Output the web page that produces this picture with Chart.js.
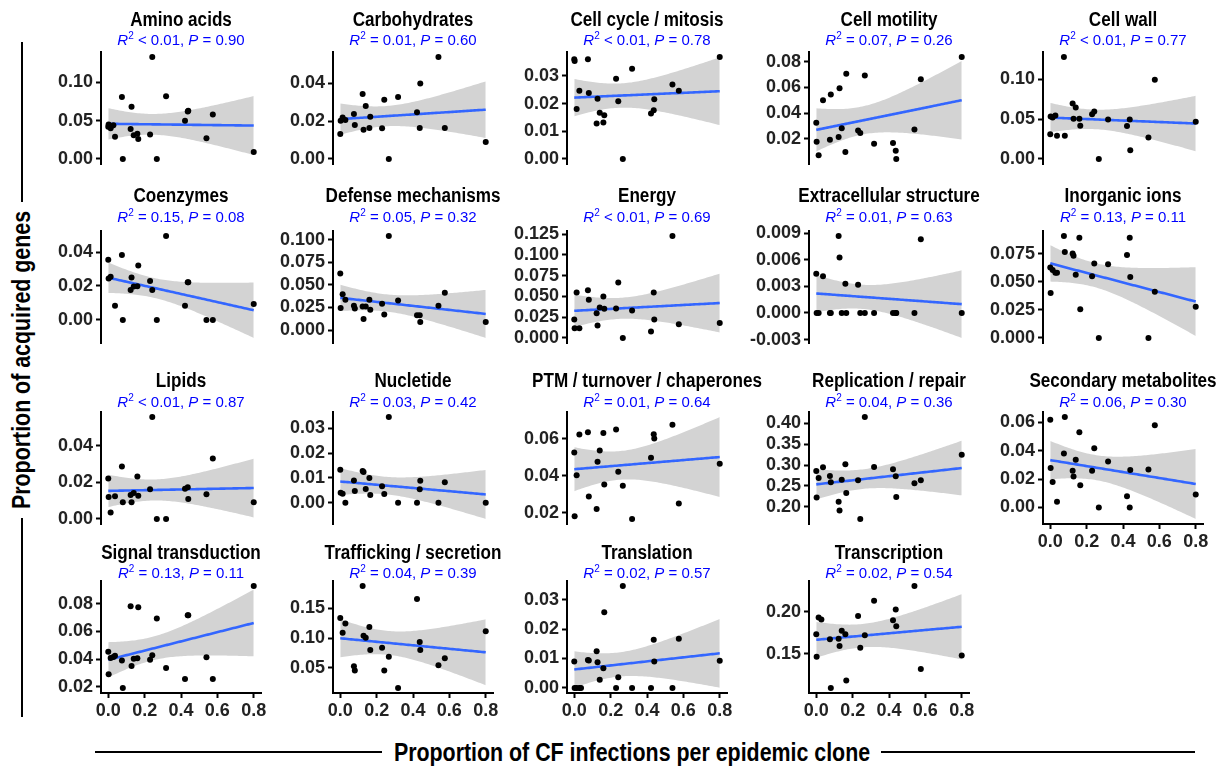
<!DOCTYPE html>
<html>
<head>
<meta charset="utf-8">
<script src="https://cdn.jsdelivr.net/npm/chart.js@4.4.1/dist/chart.umd.min.js"></script>
<style>
  html, body { margin: 0; padding: 0; background: #fff; }
  body { width: 1225px; height: 768px; position: relative; overflow: hidden;
         font-family: "Liberation Sans", Arial, sans-serif; }
  canvas.panel { position: absolute; }
  .axis-title { position: absolute; font-weight: bold; font-size: 25px; color: #000;
                white-space: nowrap; line-height: 1; }
  .rule { position: absolute; background: #000; }
</style>
</head>
<body>
<div class="axis-title" id="yTitle">Proportion of acquired genes</div>
<div class="axis-title" id="xTitle">Proportion of CF infections per epidemic clone</div>
<div class="rule" style="left:21px; top:42px; width:2px; height:160px;"></div>
<div class="rule" style="left:21px; top:518px; width:2px; height:199px;"></div>
<div class="rule" style="left:95px; top:751px; width:287px; height:2px;"></div>
<div class="rule" style="left:881px; top:751px; width:314px; height:2px;"></div>

<script>
// Proportion of CF infections for each epidemic clone (shared x values)
const cloneShare = [0.000, 0.002, 0.013, 0.028, 0.037, 0.075, 0.080, 0.123, 0.128, 0.140, 0.160,
                    0.165, 0.230, 0.242, 0.267, 0.318, 0.422, 0.437, 0.440, 0.540, 0.575, 0.800];

// Proportion of acquired genes per functional category, one value per clone (null = not plotted)
const aminoAcids = [0.042, 0.045, 0.040, 0.044, 0.029, 0.081, 0.000, 0.039, 0.068, 0.031, 0.033,
                    0.026, 0.032, 0.133, 0.000, 0.082, 0.050, 0.062, 0.063, 0.027, 0.058, 0.009];
const carbohydrates = [0.0132, 0.0203, 0.0220, 0.0206, null, 0.0238, 0.0180, 0.0344, 0.0155, 0.0280, 0.0164,
                       0.0224, 0.0162, 0.0314, 0.0000, 0.0328, 0.0247, 0.0164, 0.0400, 0.0540, 0.0164, 0.0090];
const cellCycle = [0.0360, 0.0354, 0.0180, 0.0246, null, 0.0360, 0.0238, 0.0128, 0.0217, 0.0167, 0.0132,
                   0.0158, 0.0290, 0.0208, 0.0000, 0.0326, 0.0164, 0.0176, 0.0216, 0.0269, 0.0246, 0.0368];
const cellMotility = [0.0324, 0.0177, 0.0071, null, 0.0499, 0.0192, 0.0545, 0.0213, 0.0594, 0.0282, 0.0097,
                      0.0707, 0.0264, 0.0244, 0.0692, 0.0161, 0.0167, 0.0107, 0.0043, 0.0272, 0.0663, 0.0836];
const cellWall = [0.0310, 0.0533, 0.0520, 0.0546, 0.0290, 0.1280, 0.0290, 0.0696, 0.0504, 0.0646, 0.0504,
                  0.0417, 0.0563, 0.0596, 0.0000, 0.0496, 0.0413, 0.0496, 0.0108, 0.0270, 0.0996, 0.0467];
const coenzymes = [0.0355, 0.0244, 0.0254, null, 0.0084, 0.0382, 0.0000, 0.0176, 0.0250, 0.0197, 0.0199,
                   0.0320, 0.0230, 0.0176, 0.0000, 0.0494, 0.0084, 0.0222, 0.0222, 0.0000, 0.0000, 0.0094];
const defenseMechanisms = [0.0625, 0.0243, 0.0397, 0.0335, null, 0.0268, 0.0239, 0.0261, 0.0121, 0.0261, 0.0335,
                           0.0224, 0.0290, 0.0173, 0.1040, 0.0327, 0.0165, 0.0165, 0.0088, 0.0268, 0.0412, 0.0088];
const energy = [0.0221, 0.0117, 0.0547, 0.0117, null, 0.0575, 0.0458, 0.0297, 0.0149, 0.0366, 0.0498,
                0.0350, 0.0354, 0.0667, 0.0000, 0.0330, 0.0076, 0.0547, 0.0221, 0.1226, 0.0165, 0.0181];
const extracellularStructure = [0.00443, 0, 0, null, 0.00413, 0, 0, 0.00866, 0.00626, 0, 0.00330,
                                0, 0.00319, 0, 0, 0, 0, 0, 0, 0, 0.00829, 0];
const inorganicIons = [0.0626, 0.0399, 0.0605, 0.0579, 0.0579, 0.0906, 0.0765, 0.0750, 0.0730, 0.0561, 0.0892,
                       0.0254, 0.0549, 0.0661, 0.0000, 0.0655, 0.0738, 0.0892, 0.0543, 0.0000, 0.0410, 0.0278];
const lipids = [0.0222, 0.0120, 0.0035, null, 0.0124, 0.0287, 0.0091, 0.0131, 0.0091, 0.0142, 0.0233,
                0.0127, 0.0162, 0.0558, 0.0000, 0.0000, 0.0165, 0.0173, 0.0109, 0.0135, 0.0331, 0.0091];
const nucleotide = [0.0133, 0.0040, 0.0036, 0.0000, null, 0.0090, 0.0047, 0.0128, 0.0124, 0.0055, 0.0100,
                    0.0031, 0.0066, 0.0035, 0.0346, 0.0000, 0.0000, 0.0054, 0.0089, 0.0000, 0.0083, 0.0000];
const ptmChaperones = [0.0526, 0.0180, 0.0402, 0.0623, null, 0.0636, 0.0288, 0.0220, 0.0476, 0.0537, 0.0631,
                       0.0353, 0.0650, 0.0422, 0.0346, 0.0166, 0.0497, 0.0625, 0.0602, 0.0676, 0.0249, 0.0465];
const replicationRepair = [0.2857, 0.2222, 0.2690, null, 0.2944, 0.2738, 0.2587, 0.2119, 0.1905, 0.2643, 0.3016,
                           0.2325, 0.2635, 0.1706, 0.4150, 0.2952, 0.2897, 0.2730, 0.2230, 0.2563, 0.2635, 0.3246];
const secondaryMetabolites = [0.0618, 0.0278, 0.0180, null, 0.0040, 0.0380, 0.0637, 0.0259, 0.0219, 0.0336, 0.0530,
                              0.0156, 0.0259, 0.0418, 0.0000, 0.0324, 0.0079, 0.0000, 0.0264, 0.0268, 0.0579, 0.0091];
const signalTransduction = [0.0453, 0.0289, 0.0407, 0.0415, 0.0424, 0.0390, 0.0190, 0.0783, 0.0349, 0.0402, 0.0405,
                            0.0776, 0.0395, 0.0427, 0.0694, 0.0335, 0.0255, 0.0718, 0.0718, 0.0412, 0.0255, 0.0930];
const traffickingSecretion = [0.1333, null, 0.1089, 0.1244, null, 0.0528, 0.0456, 0.1867, 0.1039, 0.1006, 0.1183,
                              0.0800, 0.0839, 0.0456, 0.0689, 0.0167, 0.1650, 0.0933, 0.0800, 0.0544, 0.0661, 0.1111];
const translation = [0.0090, 0, 0, 0, 0, 0.0095, 0.0093, 0.0125, 0.0087, 0.0028, 0.0067,
                     0.0257, 0, 0.0036, 0.0346, 0, 0, 0.0164, 0.0090, 0, 0.0167, 0.0092];
const transcription = [0.1732, 0.1465, 0.1929, 0.1906, null, 0.1673, 0.1094, 0.1677, 0.1591, 0.1772, 0.1732,
                       0.1181, 0.1949, 0.1571, 0.1720, 0.2130, 0.1898, 0.2024, 0.1827, 0.2303, 0.1319, 0.1480];

const categories = ['Amino acids', 'Carbohydrates', 'Cell cycle / mitosis', 'Cell motility', 'Cell wall',
                    'Coenzymes', 'Defense mechanisms', 'Energy', 'Extracellular structure', 'Inorganic ions',
                    'Lipids', 'Nucletide', 'PTM / turnover / chaperones', 'Replication / repair', 'Secondary metabolites',
                    'Signal transduction', 'Trafficking / secretion', 'Translation', 'Transcription'];
const series = [aminoAcids, carbohydrates, cellCycle, cellMotility, cellWall,
                coenzymes, defenseMechanisms, energy, extracellularStructure, inorganicIons,
                lipids, nucleotide, ptmChaperones, replicationRepair, secondaryMetabolites,
                signalTransduction, traffickingSecretion, translation, transcription];

// Fit statistics printed under each panel title
const r2Labels = ['< 0.01', '= 0.01', '< 0.01', '= 0.07', '< 0.01',
                  '= 0.15', '= 0.05', '< 0.01', '= 0.01', '= 0.13',
                  '< 0.01', '= 0.03', '= 0.01', '= 0.04', '= 0.06',
                  '= 0.13', '= 0.04', '= 0.02', '= 0.02'];
const pLabels = ['0.90', '0.60', '0.78', '0.26', '0.77',
                 '0.08', '0.32', '0.69', '0.63', '0.11',
                 '0.87', '0.42', '0.64', '0.36', '0.30',
                 '0.11', '0.39', '0.57', '0.54'];

// Y-axis breaks per panel and the number of decimals shown
const yTickValues = [
  [0, 0.05, 0.10], [0, 0.02, 0.04], [0, 0.01, 0.02, 0.03], [0.02, 0.04, 0.06, 0.08], [0, 0.05, 0.10],
  [0, 0.02, 0.04], [0, 0.025, 0.05, 0.075, 0.10], [0, 0.025, 0.05, 0.075, 0.10, 0.125],
  [-0.003, 0, 0.003, 0.006, 0.009], [0, 0.025, 0.05, 0.075],
  [0, 0.02, 0.04], [0, 0.01, 0.02, 0.03], [0.02, 0.04, 0.06], [0.20, 0.25, 0.30, 0.35, 0.40], [0, 0.02, 0.04, 0.06],
  [0.02, 0.04, 0.06, 0.08], [0.05, 0.10, 0.15], [0, 0.01, 0.02, 0.03], [0.15, 0.20]
];
const yTickDecimals = [2, 2, 2, 2, 2, 2, 3, 3, 3, 3, 2, 2, 2, 2, 2, 2, 2, 2, 2];
const xTickValues = [0, 0.2, 0.4, 0.6, 0.8];

// ---- layout of the facet grid (pixels) ----
const FAMILY = '"Liberation Sans", Arial, sans-serif';
const colLeft = [101, 333, 567, 809, 1043];
const rowTop = [52, 231, 412, 581];
const rowTitleBase = [26, 202, 387, 559];
const rowStatBase = [45, 222, 407, 578];
const PLOT_W = 160, PLOT_H = 112;
const PAD_L = 70, PAD_R = 40, PAD_T = 50, PAD_B = 35;
const withXAxis = [14, 15, 16, 17, 18];

// Axis titles
(function placeAxisTitles() {
  const yt = document.getElementById('yTitle');
  yt.style.left = '21px'; yt.style.top = '360px';
  yt.style.transform = 'translate(-50%, -50%) rotate(-90deg) scaleX(0.855)';
  const xt = document.getElementById('xTitle');
  xt.style.left = '632px'; xt.style.top = '752px';
  xt.style.transform = 'translate(-50%, -50%) scaleX(0.855)';
})();

// Two-sided 97.5% Student t quantile (Cornish-Fisher expansion)
function tQuantile975(df) {
  const z = 1.959964;
  const z3 = z ** 3, z5 = z ** 5, z7 = z ** 7, z9 = z ** 9;
  const g1 = (z3 + z) / 4;
  const g2 = (5 * z5 + 16 * z3 + 3 * z) / 96;
  const g3 = (3 * z7 + 19 * z5 + 17 * z3 - 15 * z) / 384;
  const g4 = (79 * z9 + 776 * z7 + 1482 * z5 - 1920 * z3 - 945 * z) / 92160;
  return z + g1 / df + g2 / df ** 2 + g3 / df ** 3 + g4 / df ** 4;
}

// Ordinary least squares with a 95% confidence band on the mean
function linearFit(xs, ys) {
  const pts = [];
  xs.forEach((x, i) => { if (ys[i] !== null && ys[i] !== undefined) pts.push({ x, y: ys[i] }); });
  const n = pts.length;
  const mx = pts.reduce((s, p) => s + p.x, 0) / n;
  const my = pts.reduce((s, p) => s + p.y, 0) / n;
  let sxx = 0, sxy = 0;
  pts.forEach(p => { sxx += (p.x - mx) ** 2; sxy += (p.x - mx) * (p.y - my); });
  const b = sxy / sxx, a = my - b * mx;
  let sse = 0;
  pts.forEach(p => { sse += (p.y - a - b * p.x) ** 2; });
  const s = Math.sqrt(sse / (n - 2));
  const t = tQuantile975(n - 2);
  const xmin = Math.min(...pts.map(p => p.x)), xmax = Math.max(...pts.map(p => p.x));
  const line = [], lower = [], upper = [];
  const steps = 80;
  for (let k = 0; k < steps; k++) {
    const x = xmin + (xmax - xmin) * k / (steps - 1);
    const yh = a + b * x;
    const se = s * Math.sqrt(1 / n + (x - mx) ** 2 / sxx);
    line.push({ x, y: yh });
    lower.push({ x, y: yh - t * se });
    upper.push({ x, y: yh + t * se });
  }
  return { pts, line, lower, upper };
}

// Panel title and fit statistics drawn above the plotting area
const panelTitlePlugin = {
  id: 'panelTitle',
  afterDraw(chart, args, opts) {
    const ctx = chart.ctx;
    const cx = (chart.chartArea.left + chart.chartArea.right) / 2;
    ctx.save();
    ctx.fillStyle = '#000';
    ctx.font = 'bold 20px ' + FAMILY;
    ctx.textAlign = 'center';
    ctx.textBaseline = 'alphabetic';
    ctx.translate(cx, opts.titleBase);
    ctx.scale(0.855, 1);
    ctx.fillText(opts.title, 0, 0);
    ctx.restore();

    const segs = [
      { t: 'R', f: 'italic 15px ' + FAMILY, dy: 0 },
      { t: '2', f: '10px ' + FAMILY, dy: -6 },
      { t: ' ' + opts.r2 + ', ', f: '15px ' + FAMILY, dy: 0 },
      { t: 'P', f: 'italic 15px ' + FAMILY, dy: 0 },
      { t: ' = ' + opts.p, f: '15px ' + FAMILY, dy: 0 }
    ];
    ctx.save();
    ctx.fillStyle = '#0000ff';
    ctx.textAlign = 'left';
    ctx.textBaseline = 'alphabetic';
    let total = 0;
    segs.forEach(sg => { ctx.font = sg.f; sg.w = ctx.measureText(sg.t).width; total += sg.w; });
    let x = cx - total / 2;
    segs.forEach(sg => { ctx.font = sg.f; ctx.fillText(sg.t, x, opts.statBase + sg.dy); x += sg.w; });
    ctx.restore();
  }
};

categories.forEach((name, i) => {
  const row = Math.floor(i / 5), col = i % 5;
  const showX = withXAxis.includes(i);
  const fit = linearFit(cloneShare, series[i]);

  // y range trained on points and ribbon, expanded by 5%
  const allY = fit.pts.map(p => p.y).concat(fit.lower.map(p => p.y), fit.upper.map(p => p.y));
  const lo = Math.min(...allY), hi = Math.max(...allY);
  const padY = (hi - lo) * 0.05;
  const xlo = Math.min(...cloneShare), xhi = Math.max(...cloneShare);
  const padX = (xhi - xlo) * 0.05;

  const canvas = document.createElement('canvas');
  canvas.className = 'panel';
  const cw = PAD_L + PLOT_W + PAD_R, ch = PAD_T + PLOT_H + PAD_B;
  canvas.width = cw; canvas.height = ch;
  canvas.style.width = cw + 'px'; canvas.style.height = ch + 'px';
  const top = rowTop[row] - PAD_T;
  canvas.style.left = (colLeft[col] - PAD_L) + 'px';
  canvas.style.top = top + 'px';
  document.body.appendChild(canvas);

  const tickFont = { family: FAMILY, size: 18, weight: 'bold' };
  const dec = yTickDecimals[i];

  new Chart(canvas.getContext('2d'), {
    type: 'line',
    data: {
      datasets: [
        { data: fit.pts, showLine: false, pointRadius: 3, pointBackgroundColor: '#000',
          pointBorderWidth: 0, borderWidth: 0 },
        { data: fit.line, borderColor: '#3366ff', borderWidth: 2.6, pointRadius: 0, fill: false, tension: 0 },
        { data: fit.lower, borderWidth: 0, pointRadius: 0, fill: false, tension: 0 },
        { data: fit.upper, borderWidth: 0, pointRadius: 0, fill: '-1', backgroundColor: '#d3d3d3', tension: 0 }
      ]
    },
    options: {
      responsive: false,
      animation: false,
      devicePixelRatio: 1,
      events: [],
      layout: { padding: { top: PAD_T, right: PAD_R, bottom: showX ? 0 : PAD_B, left: 0 } },
      plugins: {
        legend: { display: false },
        tooltip: { enabled: false },
        panelTitle: {
          title: name, r2: r2Labels[i], p: pLabels[i],
          titleBase: rowTitleBase[row] - top, statBase: rowStatBase[row] - top
        }
      },
      scales: {
        x: {
          type: 'linear', display: showX,
          min: xlo - padX, max: xhi + padX,
          afterBuildTicks: s => { s.ticks = xTickValues.map(v => ({ value: v })); },
          afterFit: s => { s.height = showX ? PAD_B : 0; },
          grid: { drawOnChartArea: false, drawTicks: true, tickLength: 5, tickColor: '#000', tickWidth: 2 },
          border: { display: true, color: '#000', width: 2 },
          ticks: { font: tickFont, color: '#222', padding: 2, maxRotation: 0, autoSkip: false,
                   callback: v => v.toFixed(1) }
        },
        y: {
          type: 'linear',
          min: lo - padY, max: hi + padY,
          afterBuildTicks: s => { s.ticks = yTickValues[i].map(v => ({ value: v })); },
          afterFit: s => { s.width = PAD_L; },
          grid: { drawOnChartArea: false, drawTicks: true, tickLength: 5, tickColor: '#000', tickWidth: 2 },
          border: { display: true, color: '#000', width: 2 },
          ticks: { font: tickFont, color: '#222', padding: 3, autoSkip: false,
                   callback: v => v.toFixed(dec) }
        }
      }
    },
    plugins: [panelTitlePlugin]
  });
});
</script>
</body>
</html>
